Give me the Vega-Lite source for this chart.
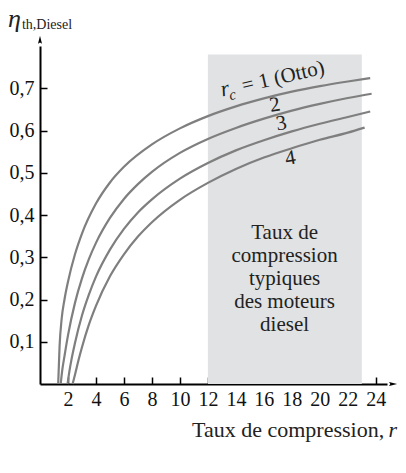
{
  "$schema": "https://vega.github.io/schema/vega-lite/v6.json",
  "width": 347,
  "height": 338,
  "autosize": "none",
  "padding": {"left": 40, "top": 46, "right": 19, "bottom": 89},
  "background": "white",
  "config": {
    "view": {"stroke": null},
    "font": "Liberation Serif",
    "axis": {
      "grid": false,
      "domainColor": "black",
      "domainWidth": 2,
      "tickColor": "black",
      "tickWidth": 1.5,
      "tickSize": -7,
      "labelFont": "Liberation Serif",
      "labelFontSize": 20,
      "labelColor": "#111",
      "labelOverlap": false,
      "labelBound": false,
      "title": null
    }
  },
  "datasets": {
    "curves": [
      {"r": 1.3, "eta": 0, "rc": 1}, {"r": 1.4, "eta": 0.09, "rc": 1}, {"r": 1.55, "eta": 0.155, "rc": 1}, {"r": 1.75, "eta": 0.2, "rc": 1}, {"r": 2, "eta": 0.242, "rc": 1}, {"r": 2.5, "eta": 0.307, "rc": 1}, {"r": 3, "eta": 0.356, "rc": 1}, {"r": 4, "eta": 0.427, "rc": 1}, {"r": 5, "eta": 0.477, "rc": 1}, {"r": 6, "eta": 0.514, "rc": 1}, {"r": 8, "eta": 0.567, "rc": 1}, {"r": 10, "eta": 0.605, "rc": 1}, {"r": 12, "eta": 0.634, "rc": 1}, {"r": 14, "eta": 0.657, "rc": 1}, {"r": 16, "eta": 0.676, "rc": 1}, {"r": 18, "eta": 0.692, "rc": 1}, {"r": 20, "eta": 0.705, "rc": 1}, {"r": 22, "eta": 0.716, "rc": 1}, {"r": 23.6, "eta": 0.724, "rc": 1},
      {"r": 1.48, "eta": 0, "rc": 2}, {"r": 1.6, "eta": 0.035, "rc": 2}, {"r": 1.75, "eta": 0.066, "rc": 2}, {"r": 2, "eta": 0.115, "rc": 2}, {"r": 2.5, "eta": 0.192, "rc": 2}, {"r": 3, "eta": 0.25, "rc": 2}, {"r": 3.5, "eta": 0.296, "rc": 2}, {"r": 4, "eta": 0.334, "rc": 2}, {"r": 5, "eta": 0.393, "rc": 2}, {"r": 6, "eta": 0.438, "rc": 2}, {"r": 7, "eta": 0.473, "rc": 2}, {"r": 8, "eta": 0.502, "rc": 2}, {"r": 10, "eta": 0.547, "rc": 2}, {"r": 12, "eta": 0.58, "rc": 2}, {"r": 14, "eta": 0.606, "rc": 2}, {"r": 16, "eta": 0.628, "rc": 2}, {"r": 18, "eta": 0.647, "rc": 2}, {"r": 20, "eta": 0.663, "rc": 2}, {"r": 22, "eta": 0.677, "rc": 2}, {"r": 23.7, "eta": 0.687, "rc": 2},
      {"r": 1.97, "eta": 0, "rc": 3}, {"r": 2.1, "eta": 0.03, "rc": 3}, {"r": 2.25, "eta": 0.058, "rc": 3}, {"r": 2.5, "eta": 0.097, "rc": 3}, {"r": 3, "eta": 0.162, "rc": 3}, {"r": 3.5, "eta": 0.212, "rc": 3}, {"r": 4, "eta": 0.254, "rc": 3}, {"r": 5, "eta": 0.318, "rc": 3}, {"r": 6, "eta": 0.367, "rc": 3}, {"r": 7, "eta": 0.406, "rc": 3}, {"r": 8, "eta": 0.437, "rc": 3}, {"r": 10, "eta": 0.486, "rc": 3}, {"r": 12, "eta": 0.523, "rc": 3}, {"r": 14, "eta": 0.553, "rc": 3}, {"r": 16, "eta": 0.577, "rc": 3}, {"r": 18, "eta": 0.598, "rc": 3}, {"r": 20, "eta": 0.616, "rc": 3}, {"r": 22, "eta": 0.632, "rc": 3}, {"r": 23.6, "eta": 0.645, "rc": 3},
      {"r": 2.33, "eta": 0, "rc": 4}, {"r": 2.5, "eta": 0.022, "rc": 4}, {"r": 2.75, "eta": 0.056, "rc": 4}, {"r": 3, "eta": 0.087, "rc": 4}, {"r": 3.5, "eta": 0.141, "rc": 4}, {"r": 4, "eta": 0.185, "rc": 4}, {"r": 5, "eta": 0.255, "rc": 4}, {"r": 6, "eta": 0.307, "rc": 4}, {"r": 7, "eta": 0.349, "rc": 4}, {"r": 8, "eta": 0.383, "rc": 4}, {"r": 10, "eta": 0.436, "rc": 4}, {"r": 12, "eta": 0.476, "rc": 4}, {"r": 14, "eta": 0.509, "rc": 4}, {"r": 16, "eta": 0.536, "rc": 4}, {"r": 18, "eta": 0.558, "rc": 4}, {"r": 20, "eta": 0.578, "rc": 4}, {"r": 22, "eta": 0.595, "rc": 4}, {"r": 23.2, "eta": 0.607, "rc": 4}
    ],
    "one": [{}]
  },
  "layer": [
    {
      "data": {"name": "one"},
      "mark": {"type": "rect", "color": "#e1e2e4"},
      "encoding": {
        "x": {"datum": 12, "type": "quantitative", "scale": {"domain": [0, 24.8], "nice": false, "zero": false}, "axis": {"values": [2, 4, 6, 8, 10, 12, 14, 16, 18, 20, 22, 24], "tickCount": 14, "labelPadding": 12, "labelBaseline": "top", "labelOverlap": false, "labelFlush": false}},
        "x2": {"datum": 23},
        "y": {"datum": 0, "type": "quantitative", "scale": {"domain": [0, 0.8], "nice": false}, "axis": {"values": [0.1, 0.2, 0.3, 0.4, 0.5, 0.6, 0.7], "tickCount": 10, "labelExpr": "replace(format(datum.value, '.1f'), '.', ',')", "labelPadding": 13, "labelOverlap": false}},
        "y2": {"datum": 0.78}
      }
    },
    {
      "data": {"name": "curves"},
      "mark": {"type": "line", "color": "#7f7f7f", "strokeWidth": 2.2, "interpolate": "monotone"},
      "encoding": {
        "x": {"field": "r", "type": "quantitative"},
        "y": {"field": "eta", "type": "quantitative"},
        "detail": {"field": "rc"}
      }
    },
    {
      "data": {"name": "one"},
      "mark": {"type": "point", "shape": "M0,-1L0.38,0.55L0,0.3L-0.38,0.55Z", "filled": true, "color": "black", "opacity": 1, "size": 110},
      "encoding": {"x": {"datum": 0, "type": "quantitative"}, "y": {"datum": 0.812, "type": "quantitative"}}
    },
    {
      "data": {"name": "one"},
      "mark": {"type": "point", "shape": "M1,0L-0.55,0.38L-0.3,0L-0.55,-0.38Z", "filled": true, "color": "black", "opacity": 1, "size": 110},
      "encoding": {"x": {"datum": 25.15, "type": "quantitative"}, "y": {"datum": 0, "type": "quantitative"}}
    },
    {
      "data": {"name": "one"},
      "mark": {"type": "text", "text": ["Taux de", "compression", "typiques", "des moteurs", "diesel"], "font": "Liberation Serif", "fontSize": 21, "lineHeight": 23, "align": "center", "baseline": "alphabetic", "color": "#222"},
      "encoding": {"x": {"datum": 17.48, "type": "quantitative"}, "y": {"datum": 0.344, "type": "quantitative"}}
    },
    {
      "data": {"name": "one"},
      "mark": {"type": "text", "text": "r", "font": "Liberation Serif", "fontStyle": "italic", "fontSize": 22, "align": "center", "baseline": "middle", "angle": 347, "color": "#222"},
      "encoding": {"x": {"datum": 13.21, "type": "quantitative"}, "y": {"datum": 0.699, "type": "quantitative"}}
    },
    {
      "data": {"name": "one"},
      "mark": {"type": "text", "text": "c", "font": "Liberation Serif", "fontStyle": "italic", "fontSize": 15, "align": "center", "baseline": "middle", "angle": 347, "color": "#222"},
      "encoding": {"x": {"datum": 13.74, "type": "quantitative"}, "y": {"datum": 0.685, "type": "quantitative"}}
    },
    {
      "data": {"name": "one"},
      "mark": {"type": "text", "text": "= 1 (Otto)", "font": "Liberation Serif", "fontSize": 21, "align": "center", "baseline": "middle", "angle": 347, "color": "#222"},
      "encoding": {"x": {"datum": 17.38, "type": "quantitative"}, "y": {"datum": 0.7265, "type": "quantitative"}}
    },
    {
      "data": {"name": "one"},
      "mark": {"type": "text", "text": "2", "font": "Liberation Serif", "fontSize": 21, "align": "center", "baseline": "middle", "angle": 350, "color": "#222"},
      "encoding": {"x": {"datum": 16.79, "type": "quantitative"}, "y": {"datum": 0.66, "type": "quantitative"}}
    },
    {
      "data": {"name": "one"},
      "mark": {"type": "text", "text": "3", "font": "Liberation Serif", "fontSize": 21, "align": "center", "baseline": "middle", "angle": 350, "color": "#222"},
      "encoding": {"x": {"datum": 17.26, "type": "quantitative"}, "y": {"datum": 0.616, "type": "quantitative"}}
    },
    {
      "data": {"name": "one"},
      "mark": {"type": "text", "text": "4", "font": "Liberation Serif", "fontSize": 21, "align": "center", "baseline": "middle", "angle": 350, "color": "#222"},
      "encoding": {"x": {"datum": 17.9, "type": "quantitative"}, "y": {"datum": 0.534, "type": "quantitative"}}
    },
    {
      "data": {"name": "one"},
      "mark": {"type": "text", "text": "Taux de compression,", "font": "Liberation Serif", "fontSize": 22, "align": "right", "baseline": "alphabetic", "color": "#222"},
      "encoding": {"x": {"datum": 24.6, "type": "quantitative"}, "y": {"datum": -0.1246, "type": "quantitative"}}
    },
    {
      "data": {"name": "one"},
      "mark": {"type": "text", "text": "r", "font": "Liberation Serif", "fontStyle": "italic", "fontSize": 22, "align": "left", "baseline": "alphabetic", "color": "#222"},
      "encoding": {"x": {"datum": 24.9, "type": "quantitative"}, "y": {"datum": -0.1246, "type": "quantitative"}}
    },
    {
      "data": {"name": "one"},
      "mark": {"type": "text", "text": "η", "font": "Liberation Serif", "fontStyle": "italic", "fontSize": 26, "align": "left", "baseline": "alphabetic", "color": "#222"},
      "encoding": {"x": {"datum": -2.29, "type": "quantitative"}, "y": {"datum": 0.846, "type": "quantitative"}}
    },
    {
      "data": {"name": "one"},
      "mark": {"type": "text", "text": "th,Diesel", "font": "Liberation Serif", "fontSize": 14, "align": "left", "baseline": "alphabetic", "color": "#222"},
      "encoding": {"x": {"datum": -1.29, "type": "quantitative"}, "y": {"datum": 0.841, "type": "quantitative"}}
    }
  ]
}
